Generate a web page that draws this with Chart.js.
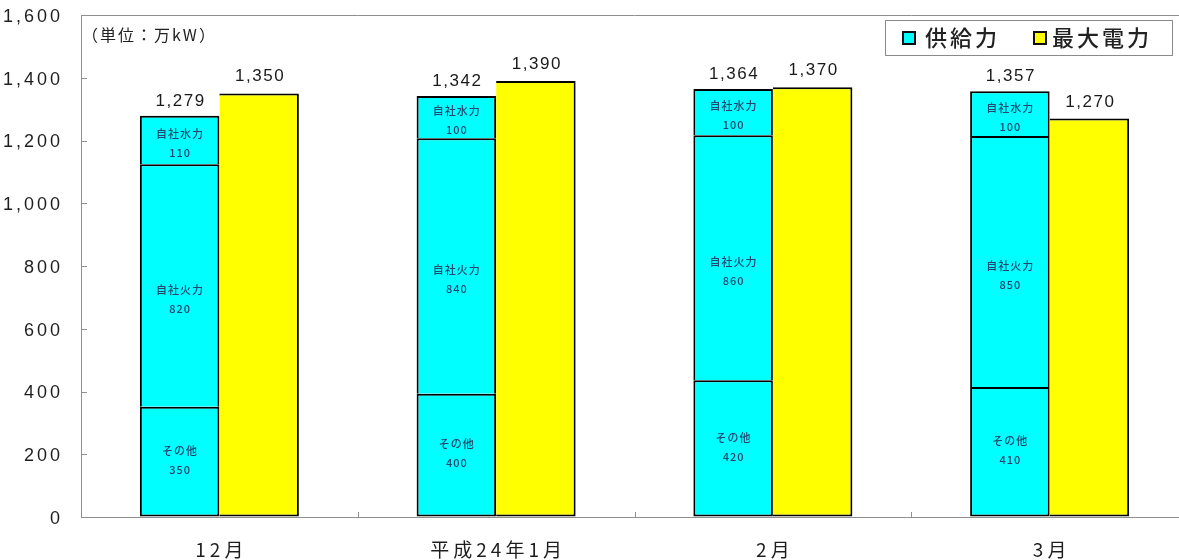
<!DOCTYPE html>
<html><head><meta charset="utf-8">
<script src="https://cdn.jsdelivr.net/npm/chart.js@4"></script>
<style>
html,body{margin:0;padding:0;background:#fff;overflow:hidden;width:1179px;height:560px}
#wrap{position:relative;width:1188px;height:560px}
</style></head>
<body><div id="wrap"><canvas id="c" width="1188" height="560"></canvas></div>
<script>
const categories = ["12月", "平成24年1月", "2月", "3月"];
// segment heights as drawn in the picture
const otherValues = [351, 393, 436, 414];
const thermalValues = [773, 814, 781, 800];
const hydroValues = [155, 135, 147, 143];
// numbers printed inside the segments
const otherLabels = [350, 400, 420, 410];
const thermalLabels = [820, 840, 860, 850];
const hydroLabels = [110, 100, 100, 100];
const supplyTotals = [1279, 1342, 1364, 1357];
const peakDemand = [1350, 1390, 1370, 1270];
const yTicks = [0, 200, 400, 600, 800, 1000, 1200, 1400, 1600];
const segmentNames = ["その他", "自社火力", "自社水力"];
const legendNames = ["供給力", "最大電力"];
const unitLabel = "（単位：万kW）";

const CYAN = "#00FFFF", YELLOW = "#FFFF00";
const NUM_FONT = '"Liberation Sans", Arial, "Noto Sans CJK JP", sans-serif';
const JP_FONT = '"Noto Sans CJK JP", "Liberation Sans", sans-serif';
const AXIS_GRAY = '#8f8f8f';

const fmt = v => v.toLocaleString('en-US');
const segLabels = [otherLabels, thermalLabels, hydroLabels];
const segOffsets = [[-11, 8], [4, 23], [-6, 13]];

const decor = {
  id: 'decor',
  beforeDatasetsDraw(chart) {
    const ctx = chart.ctx;
    const ca = chart.chartArea;
    const xs = chart.scales.x, ys = chart.scales.y;
    ctx.save();
    ctx.strokeStyle = AXIS_GRAY;
    ctx.lineWidth = 1;
    ctx.beginPath();
    ctx.moveTo(ca.left, ca.top + 0.5);
    ctx.lineTo(chart.width, ca.top + 0.5);
    yTicks.forEach(v => {
      const y = Math.round(ys.getPixelForValue(v)) + 0.5;
      ctx.moveTo(ca.left, y);
      ctx.lineTo(ca.left + 6, y);
    });
    for (let i = 1; i < categories.length; i++) {
      const x = Math.round((xs.getPixelForTick(i - 1) + xs.getPixelForTick(i)) / 2) + 0.5;
      ctx.moveTo(x, ca.bottom);
      ctx.lineTo(x, ca.bottom - 5);
    }
    ctx.stroke();

    ctx.fillStyle = '#1e1e1e';
    ctx.font = '18px ' + NUM_FONT;
    ctx.letterSpacing = '3px';
    ctx.textAlign = 'right';
    ctx.textBaseline = 'middle';
    yTicks.forEach(v => {
      ctx.fillText(fmt(v), 63, ys.getPixelForValue(v) + 2);
    });
    ctx.font = '19px ' + JP_FONT;
    ctx.letterSpacing = '4px';
    ctx.textAlign = 'center';
    categories.forEach((c, i) => {
      ctx.fillText(c, xs.getPixelForTick(i) + 2, 550);
    });
    ctx.restore();
  },
  afterDatasetsDraw(chart) {
    const ctx = chart.ctx;
    ctx.save();
    ctx.fillStyle = '#23466e';
    ctx.font = '500 11px ' + JP_FONT;
    ctx.textAlign = 'center';
    ctx.textBaseline = 'middle';
    ctx.letterSpacing = '1px';
    for (let d = 0; d < 3; d++) {
      const meta = chart.getDatasetMeta(d);
      meta.data.forEach((el, i) => {
        const cy = (el.y + el.base) / 2;
        ctx.fillText(segmentNames[d], el.x + 0.5, cy + segOffsets[d][0]);
        ctx.fillText(String(segLabels[d][i]), el.x + 0.5, cy + segOffsets[d][1]);
      });
    }
    ctx.letterSpacing = '1.5px';
    ctx.fillStyle = '#1a1a1a';
    ctx.font = '17px ' + NUM_FONT;
    ctx.textBaseline = 'alphabetic';
    chart.getDatasetMeta(2).data.forEach((el, i) => {
      ctx.fillText(fmt(supplyTotals[i]), el.x + 1, el.y - 10);
    });
    chart.getDatasetMeta(3).data.forEach((el, i) => {
      ctx.fillText(fmt(peakDemand[i]), el.x + 1, el.y - 12);
    });

    ctx.textAlign = 'left';
    ctx.textBaseline = 'middle';
    ctx.font = '16px ' + JP_FONT;
    ctx.letterSpacing = '2px';
    ctx.fillStyle = '#222';
    ctx.fillText(unitLabel, 82, 35);

    ctx.letterSpacing = '0px';
    ctx.fillStyle = '#fff';
    ctx.fillRect(885, 20, 287, 36);
    ctx.strokeStyle = '#8a8a8a';
    ctx.lineWidth = 1;
    ctx.strokeRect(885.5, 20.5, 287, 35);
    const items = [[903, CYAN, legendNames[0], 925], [1034, YELLOW, legendNames[1], 1052]];
    ctx.font = '500 22px ' + JP_FONT;
    ctx.letterSpacing = '3px';
    items.forEach(([sx, col, txt, tx]) => {
      ctx.fillStyle = col;
      ctx.fillRect(sx, 32, 12, 12);
      ctx.strokeStyle = '#111';
      ctx.lineWidth = 2;
      ctx.strokeRect(sx, 32, 12, 12);
      ctx.fillStyle = '#222';
      ctx.fillText(txt, tx, 38);
    });
    ctx.restore();
  }
};

const cyanBorder = (top, bottom) => ({ top, bottom, left: 2, right: 2 });

new Chart(document.getElementById('c'), {
  type: 'bar',
  data: {
    labels: categories,
    datasets: [
      { label: segmentNames[0], data: otherValues, stack: 'supply', backgroundColor: CYAN, borderWidth: cyanBorder(2, 2) },
      { label: segmentNames[1], data: thermalValues, stack: 'supply', backgroundColor: CYAN, borderWidth: cyanBorder(2, 0) },
      { label: segmentNames[2], data: hydroValues, stack: 'supply', backgroundColor: CYAN, borderWidth: cyanBorder(2, 0) },
      { label: legendNames[1], data: peakDemand, stack: 'demand', backgroundColor: YELLOW, borderWidth: { top: 2, bottom: 2, left: 0, right: 2 } }
    ]
  },
  options: {
    responsive: false,
    animation: false,
    layout: { padding: { top: 15, left: 0, right: 0, bottom: 0 } },
    datasets: { bar: { borderColor: '#000', borderSkipped: false,
      categoryPercentage: 0.5746, barPercentage: 1.0 } },
    plugins: { legend: { display: false }, tooltip: { enabled: false } },
    scales: {
      x: {
        stacked: true,
        afterFit(s) { s.height = 43; },
        grid: { display: true, drawOnChartArea: false, drawTicks: false },
        border: { color: AXIS_GRAY, width: 1 },
        ticks: { display: false }
      },
      y: {
        stacked: true,
        min: 0, max: 1600,
        afterFit(s) { s.width = 81; },
        grid: { display: true, drawOnChartArea: false, drawTicks: false },
        border: { color: AXIS_GRAY, width: 1 },
        ticks: { display: false, stepSize: 200 }
      }
    }
  },
  plugins: [decor]
});
</script></body></html>
